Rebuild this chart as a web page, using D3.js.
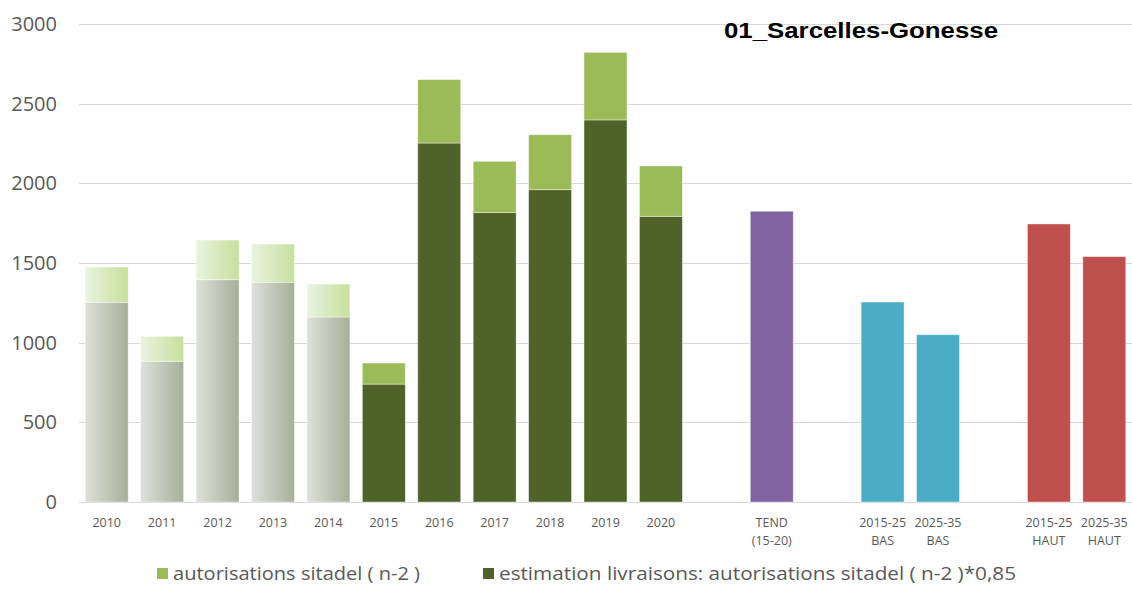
<!DOCTYPE html>
<html>
<head>
<meta charset="utf-8">
<script src="https://cdn.jsdelivr.net/npm/d3@7"></script>
<style>
  body { margin: 0; background: #fff; }
  text { font-family: "Open Sans", sans-serif; }
</style>
</head>
<body>
<div id="graph"></div>
<script>
// chart data
let years = ["2010","2011","2012","2013","2014","2015","2016","2017","2018","2019","2020"];
let autorisations = [1475, 1040, 1644, 1619, 1368, 872, 2651, 2138, 2305, 2822, 2109];
let livraisons = [1253, 883, 1395, 1379, 1161, 740, 2253, 1816, 1960, 2398, 1793];
let scenarios = ["TEND|(15-20)", "2015-25|BAS", "2025-35|BAS", "2015-25|HAUT", "2025-35|HAUT"];
let scenarioValues = [1825, 1255, 1050, 1745, 1540];
let scenarioColors = ["#8064A2", "#4BACC6", "#4BACC6", "#C0504D", "#C0504D"];
let yTicks = [0, 500, 1000, 1500, 2000, 2500, 3000];
let title = "01_Sarcelles-Gonesse";
let legendLabels = ["autorisations sitadel ( n-2 )", "estimation livraisons: autorisations sitadel ( n-2 )*0,85"];

let width = 1132, height = 589;
let padding = {top: 24, right: 0, bottom: 87, left: 79};

// slots along x, with blank ones for the gaps
let slots = years.concat(["_a", scenarios[0], "_b", scenarios[1], scenarios[2], "_c", scenarios[3], scenarios[4]]);

let graph = d3.select("div#graph")
	.append("svg")
	.attr("width", width)
	.attr("height", height);

let xScale = d3.scaleBand()
	.domain(slots)
	.range([padding.left, width - padding.right])
	.paddingInner(0.225)
	.paddingOuter(0.1125);

let yScale = d3.scaleLinear()
	.domain([0, 3000])
	.range([height - padding.bottom, padding.top]);

let defs = graph.append("defs");
function grad(id, c1, c2) {
	let g = defs.append("linearGradient").attr("id", id)
		.attr("x1", "0%").attr("x2", "100%").attr("y1", "0%").attr("y2", "0%");
	g.append("stop").attr("offset", "0%").attr("stop-color", c1);
	g.append("stop").attr("offset", "100%").attr("stop-color", c2);
}
grad("gradDark", "#DEE1DB", "#A7AF98");
grad("gradLight", "#EAF3DF", "#C6E09C");

// gridlines
graph.append("g")
	.selectAll("line")
	.data(yTicks)
	.enter()
	.append("line")
	.attr("x1", padding.left)
	.attr("x2", width - padding.right)
	.attr("y1", d => Math.round(yScale(d)) + 0.5)
	.attr("y2", d => Math.round(yScale(d)) + 0.5)
	.attr("stroke", "#D9D9D9")
	.attr("stroke-width", 1.2);

// y axis
let yAxis = d3.axisLeft(yScale).tickValues(yTicks).tickSize(0).tickPadding(0).tickFormat(d3.format("d"));
let yg = graph.append("g")
	.attr("class", "y axis")
	.attr("transform", `translate(57, 0)`)
	.call(yAxis);
yg.select(".domain").remove();
yg.selectAll("text")
	.attr("fill", "#595959")
	.style("font-family", "'Open Sans', sans-serif")
	.style("font-size", "20px");

let histData = years.map((y, i) => ({year: y, total: autorisations[i], est: livraisons[i], i: i}));

// dark (estimation) segment
graph.selectAll("rect.est")
	.data(histData)
	.enter()
	.append("rect")
	.attr("class", "est")
	.attr("x", d => xScale(d.year))
	.attr("width", xScale.bandwidth())
	.attr("y", d => yScale(d.est))
	.attr("height", d => yScale(0) - yScale(d.est))
	.attr("fill", d => d.i < 5 ? "url(#gradDark)" : "#4F6228")
	.attr("stroke", "#fff")
	.attr("stroke-opacity", 0.5)
	.attr("stroke-width", 0.8);

// light (autorisations) segment on top
graph.selectAll("rect.auto")
	.data(histData)
	.enter()
	.append("rect")
	.attr("class", "auto")
	.attr("x", d => xScale(d.year))
	.attr("width", xScale.bandwidth())
	.attr("y", d => yScale(d.total))
	.attr("height", d => yScale(d.est) - yScale(d.total))
	.attr("fill", d => d.i < 5 ? "url(#gradLight)" : "#9BBB59")
	.attr("stroke", "#fff")
	.attr("stroke-opacity", 0.5)
	.attr("stroke-width", 0.8);

// scenario bars
graph.selectAll("rect.scen")
	.data(scenarios)
	.enter()
	.append("rect")
	.attr("class", "scen")
	.attr("x", d => xScale(d))
	.attr("width", xScale.bandwidth())
	.attr("y", (d, i) => yScale(scenarioValues[i]))
	.attr("height", (d, i) => yScale(0) - yScale(scenarioValues[i]))
	.attr("fill", (d, i) => scenarioColors[i])
	.attr("stroke", "#fff")
	.attr("stroke-opacity", 0.5)
	.attr("stroke-width", 0.8);

// x axis labels
let xAxis = d3.axisBottom(xScale)
	.tickSize(0)
	.tickPadding(0)
	.tickFormat(d => d.startsWith("_") ? "" : d);
let xg = graph.append("g")
	.attr("class", "x axis")
	.attr("transform", `translate(0, ${yScale(0)})`)
	.call(xAxis);
xg.select(".domain").remove();
xg.selectAll("text")
	.attr("fill", "#595959")
	.style("font-family", "'Open Sans', sans-serif")
	.style("font-size", "12.5px")
	.attr("dy", 0)
	.each(function (d) {
		let t = d3.select(this);
		t.text(null);
		if (d.startsWith("_")) return;
		let parts = d.split("|");
		parts.forEach((p, k) => {
			t.append("tspan")
				.attr("x", 0)
				.attr("y", 25 + k * 18)
				.text(p);
		});
	});

// title
graph.append("text")
	.attr("x", 861)
	.attr("y", 38)
	.attr("text-anchor", "middle")
	.style("font-family", "'Liberation Sans', Arial, sans-serif")
	.style("font-weight", "bold")
	.style("font-size", "22px")
	.attr("textLength", 274)
	.attr("lengthAdjust", "spacingAndGlyphs")
	.attr("fill", "#000")
	.text(title);

// legend
let legend = graph.append("g").attr("class", "legend");
let legendX = [157, 483];
let legendLen = [247, 517];
let legendColors = ["#9BBB59", "#4F6228"];
legendLabels.forEach((label, i) => {
	legend.append("rect")
		.attr("x", legendX[i])
		.attr("y", 568)
		.attr("width", 11)
		.attr("height", 11)
		.attr("fill", legendColors[i]);
	legend.append("text")
		.attr("x", legendX[i] + 16)
		.attr("y", 580)
		.attr("fill", "#595959")
		.attr("textLength", legendLen[i])
		.attr("lengthAdjust", "spacingAndGlyphs")
		.style("font-size", "19px")
		.text(label);
});
</script>
</body>
</html>
